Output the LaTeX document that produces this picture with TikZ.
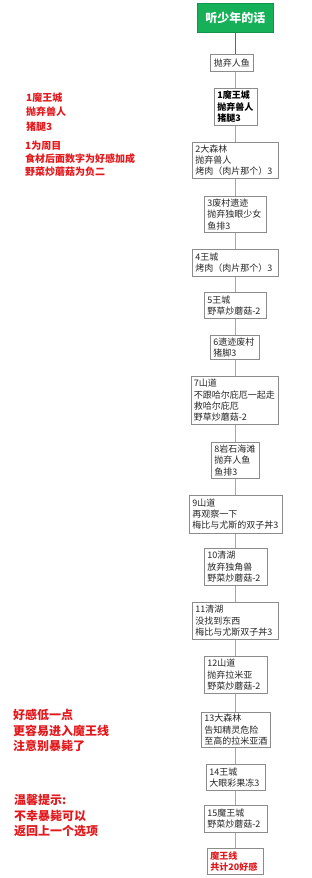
\documentclass[tikz,border=0pt]{standalone}
\usepackage{fontspec}
\setmainfont{Noto Sans CJK SC}
\definecolor{gbox}{RGB}{22,176,88}
\definecolor{rtext}{RGB}{226,24,28}
\begin{document}
\begin{tikzpicture}[x=1pt,y=-1pt,
  flowbox/.style={draw=black!45, line width=0.6pt, fill=white, anchor=north west,
    inner xsep=3pt, inner ysep=0pt, align=left, text=black!85,
    font=\fontsize{9}{11.3}\selectfont},
  greenbox/.style={fill=gbox, draw=gbox!85!black, line width=0.5pt, anchor=north west,
    inner sep=0pt, text=white, font=\fontsize{12}{14}\selectfont\bfseries},
  conn/.style={draw=black!35, line width=0.8pt},
  connfirst/.style={draw=black!60, line width=1.1pt},
  note/.style={anchor=base west, inner sep=0pt, align=left, text=rtext}
]
\useasboundingbox (0,0) rectangle (311,878);

\node[greenbox, minimum width=76pt, minimum height=29pt] (g) at (197,3) {听少年的话};
\node[flowbox, text width=37pt, minimum height=17pt, align=center] (b0) at (210,54) {抛弃人鱼};
\node[flowbox, text width=37pt, minimum height=37pt, font=\fontsize{9}{11.3}\selectfont\bfseries, text=black] (b1) at (214,88) {1魔王城\\抛弃兽人\\猪腿3};
\node[flowbox, text width=80pt, minimum height=36pt] (b2) at (192,142) {2大森林\\抛弃兽人\\烤肉（肉片那个）3};
\node[flowbox, text width=56pt, minimum height=36pt] (b3) at (204,196) {3废村遗迹\\抛弃独眼少女\\鱼排3};
\node[flowbox, text width=80pt, minimum height=27pt] (b4) at (192,249) {4王城\\烤肉（肉片那个）3};
\node[flowbox, text width=56pt, minimum height=26pt] (b5) at (204,292) {5王城\\野草炒蘑菇-2};
\node[flowbox, text width=43pt, minimum height=24pt] (b6) at (210,335) {6遗迹废村\\猪脚3};
\node[flowbox, text width=82pt, minimum height=48pt, inner xsep=2.5pt] (b7) at (191,376) {7山道\\不跟哈尔庇厄一起走\\救哈尔庇厄\\野草炒蘑菇-2};
\node[flowbox, text width=42pt, minimum height=36pt] (b8) at (211,442) {8岩石海滩\\抛弃人鱼\\鱼排3};
\node[flowbox, text width=87pt, minimum height=38pt] (b9) at (189,495) {9山道\\再观察一下\\梅比与尤斯的双子丼3};
\node[flowbox, text width=57pt, minimum height=37pt] (b10) at (204,548) {10清湖\\放弃独角兽\\野菜炒蘑菇-2};
\node[flowbox, text width=80pt, minimum height=37pt] (b11) at (192,602) {11清湖\\没找到东西\\梅比与尤斯双子丼3};
\node[flowbox, text width=57pt, minimum height=37pt] (b12) at (204,656) {12山道\\抛弃拉米亚\\野菜炒蘑菇-2};
\node[flowbox, text width=63pt, minimum height=35pt] (b13) at (201,712) {13大森林\\告知精灵危险\\至高的拉米亚酒};
\node[flowbox, text width=53pt, minimum height=26pt] (b14) at (206,764) {14王城\\大眼彩果冻3};
\node[flowbox, text width=57pt, minimum height=27pt] (b15) at (204,805) {15魔王城\\野菜炒蘑菇-2};
\node[flowbox, text width=50pt, minimum height=26pt, text=rtext, font=\fontsize{9}{11.3}\selectfont\bfseries] (b16) at (207,848) {魔王线\\共计20好感};

\draw[connfirst] (g.south) -- (b0.north -| g.south);
\foreach \a/\b in {b0/b1,b1/b2,b2/b3,b3/b4,b4/b5,b5/b6,b6/b7,b7/b8,b8/b9,b9/b10,b10/b11,b11/b12,b12/b13,b13/b14,b14/b15,b15/b16}
  \draw[conn] (\a.south -| g.south) -- (\b.north -| g.south);

% base anchor of a multi-line note is the baseline of its last line
\node[note, font=\fontsize{10}{14.2}\selectfont\bfseries] (n1) at (26,130) {1魔王城\\抛弃兽人\\猪腿3};
\node[note, font=\fontsize{10}{13.2}\selectfont\bfseries] (n2) at (25,175.5) {1为周目\\食材后面数字为好感加成\\野菜炒蘑菇为负二};
\node[note, font=\fontsize{12}{15.5}\selectfont\bfseries] (n3) at (13,750.5) {好感低一点\\更容易进入魔王线\\注意别暴毙了};
\node[note, font=\fontsize{12}{15.5}\selectfont\bfseries] (n4) at (14,835.5) {温馨提示:\\不幸暴毙可以\\返回上一个选项};
\end{tikzpicture}
\end{document}
